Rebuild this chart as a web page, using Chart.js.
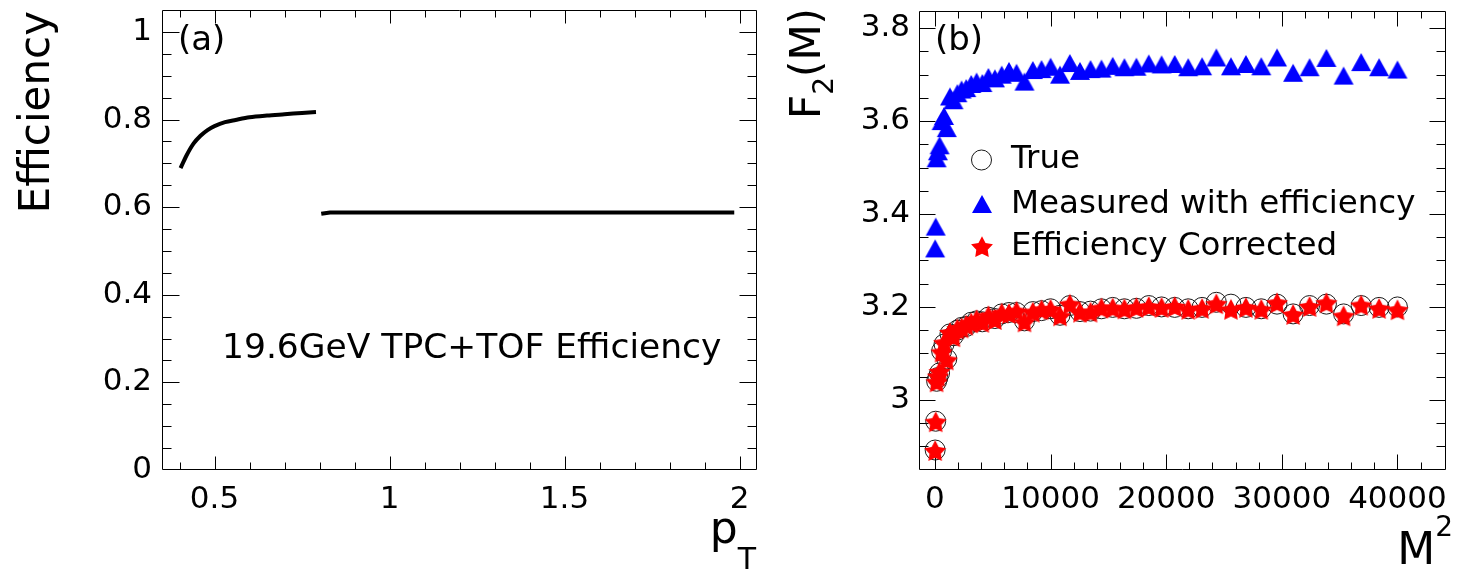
<!DOCTYPE html>
<html>
<head>
<meta charset="utf-8">
<script src="https://cdn.jsdelivr.net/npm/chart.js@4"></script>
<style>
  html, body { margin: 0; padding: 0; background: #fff; }
  #wrap { position: relative; width: 1458px; height: 571px; overflow: hidden; }
  canvas { position: absolute; top: 0; }
  #effCanvas { left: 0; }
  #f2Canvas { left: 770px; }
</style>
</head>
<body>
<div id="wrap">
  <canvas id="effCanvas" width="770" height="571"></canvas>
  <canvas id="f2Canvas" width="688" height="571"></canvas>
</div>
<script>
// ---- Panel (a): 19.6 GeV TPC+TOF efficiency vs pT ----
const ptTpc  = [0.403, 0.42, 0.44, 0.46, 0.48, 0.50, 0.53, 0.56, 0.60, 0.65, 0.70, 0.75, 0.79];
const effTpc = [0.689, 0.718, 0.745, 0.763, 0.776, 0.785, 0.794, 0.799, 0.805, 0.809, 0.812, 0.815, 0.817];
const ptTof  = [0.805, 0.83, 1.0, 1.25, 1.5, 1.75, 1.985];
const effTof = [0.585, 0.588, 0.588, 0.588, 0.588, 0.588, 0.588];

const effTicksX = [0.5, 1, 1.5, 2];
const effTickLabelsX = ['0.5', '1', '1.5', '2'];
const effTicksY = [0, 0.2, 0.4, 0.6, 0.8, 1];
const effTickLabelsY = ['0', '0.2', '0.4', '0.6', '0.8', '1'];

// ---- Panel (b): F2(M) vs M^2 ----
const m2 = [16, 64, 144, 256, 400, 576, 784, 1024, 1296, 1600,
            1936, 2304, 2704, 3136, 3600, 4096, 4624, 5184, 5776, 6400,
            7056, 7744, 8464, 9216, 10000, 10816, 11664, 12544, 13456, 14400,
            15376, 16384, 17424, 18496, 19600, 20736, 21904, 23104, 24336, 25600,
            26896, 28224, 29584, 30976, 32400, 33856, 35344, 36864, 38416, 40000];
const f2True = [2.892, 2.954, 3.040, 3.048, 3.058, 3.105, 3.120, 3.088, 3.142, 3.138,
                3.150, 3.156, 3.158, 3.167, 3.170, 3.168, 3.178, 3.175, 3.185, 3.188,
                3.188, 3.170, 3.190, 3.192, 3.196, 3.182, 3.203, 3.190, 3.191, 3.196,
                3.199, 3.196, 3.197, 3.203, 3.200, 3.199, 3.196, 3.199, 3.210, 3.206,
                3.199, 3.196, 3.206, 3.185, 3.203, 3.206, 3.185, 3.203, 3.199, 3.200];
const f2Measured = [3.326, 3.373, 3.520, 3.535, 3.548, 3.600, 3.611, 3.585, 3.653, 3.645,
                    3.660, 3.668, 3.671, 3.680, 3.685, 3.682, 3.695, 3.692, 3.700, 3.708,
                    3.704, 3.685, 3.710, 3.712, 3.717, 3.700, 3.725, 3.708, 3.712, 3.713,
                    3.719, 3.716, 3.717, 3.724, 3.722, 3.723, 3.716, 3.718, 3.737, 3.718,
                    3.723, 3.718, 3.737, 3.704, 3.716, 3.736, 3.698, 3.727, 3.716, 3.711];
const f2Corrected = [2.890, 2.952, 3.038, 3.050, 3.060, 3.102, 3.122, 3.085, 3.144, 3.135,
                     3.152, 3.154, 3.160, 3.165, 3.172, 3.166, 3.180, 3.172, 3.186, 3.185,
                     3.190, 3.167, 3.188, 3.193, 3.194, 3.180, 3.205, 3.188, 3.188, 3.197,
                     3.197, 3.195, 3.198, 3.200, 3.198, 3.200, 3.194, 3.196, 3.206, 3.194,
                     3.198, 3.194, 3.208, 3.183, 3.200, 3.208, 3.180, 3.203, 3.196, 3.193];

const f2TicksX = [0, 10000, 20000, 30000, 40000];
const f2TickLabelsX = ['0', '10000', '20000', '30000', '40000'];
const f2TicksY = [3, 3.2, 3.4, 3.6, 3.8];
const f2TickLabelsY = ['3', '3.2', '3.4', '3.6', '3.8'];

const FONT = "'DejaVu Sans', sans-serif";
Chart.defaults.font.family = FONT;
Chart.defaults.color = '#000';

function steps(from, to, step) {
  const out = [];
  for (let v = from; v <= to + step * 1e-6; v += step) out.push(Math.round(v / step) * step);
  return out;
}
function pairs(xs, ys) { return xs.map((x, i) => ({ x, y: ys[i] })); }

// Marker images: filled star and a box-centred up triangle
function starMarker(color) {
  const c = document.createElement('canvas');
  c.width = 24; c.height = 24;
  const g = c.getContext('2d');
  const R = 11.5, r = 6.0, cx = 12, cy = 12.8;
  g.beginPath();
  for (let k = 0; k < 10; k++) {
    const ang = -Math.PI / 2 + k * Math.PI / 5;
    const rad = k % 2 ? r : R;
    const px = cx + rad * Math.cos(ang), py = cy + rad * Math.sin(ang);
    if (k) g.lineTo(px, py); else g.moveTo(px, py);
  }
  g.closePath();
  g.fillStyle = color;
  g.fill();
  return c;
}
function triangleMarker(color) {
  const c = document.createElement('canvas');
  c.width = 22; c.height = 20;
  const g = c.getContext('2d');
  g.beginPath();
  g.moveTo(11, 1); g.lineTo(21, 19); g.lineTo(1, 19); g.closePath();
  g.fillStyle = color;
  g.fill();
  return c;
}
const starImg = starMarker('#ff0000');
const triImg = triangleMarker('#0000ff');

// Frame with inward ticks on all four sides
const axisFrame = {
  id: 'axisFrame',
  beforeDatasetsDraw(chart, args, o) {
    const { ctx, chartArea: a } = chart;
    const sx = chart.scales.x, sy = chart.scales.y;
    const L = Math.round(a.left) + 0.5, R = Math.round(a.right) - 0.5;
    const T = Math.round(a.top) + 0.5, B = Math.round(a.bottom) - 0.5;
    ctx.save();
    ctx.strokeStyle = '#000';
    ctx.lineWidth = 1;
    ctx.beginPath();
    ctx.rect(L, T, R - L, B - T);
    const tx = (vals, len) => vals.forEach(v => {
      const p = Math.round(sx.getPixelForValue(v)) + 0.5;
      if (p <= L + 1 || p >= R - 1) return;
      ctx.moveTo(p, B); ctx.lineTo(p, B - len);
      ctx.moveTo(p, T); ctx.lineTo(p, T + len);
    });
    const ty = (vals, len) => vals.forEach(v => {
      const p = Math.round(sy.getPixelForValue(v)) + 0.5;
      if (p <= T + 1 || p >= B - 1) return;
      ctx.moveTo(L, p); ctx.lineTo(L + len, p);
      ctx.moveTo(R, p); ctx.lineTo(R - len, p);
    });
    tx(o.xMinor, o.xLen[1]); tx(o.xMajor, o.xLen[0]);
    ty(o.yMinor, o.yLen[1]); ty(o.yMajor, o.yLen[0]);
    ctx.stroke();
    ctx.restore();
  }
};

// Free text: titles, panel tags, annotation (runs of differently sized pieces)
const textRuns = {
  id: 'textRuns',
  afterDraw(chart, args, o) {
    const ctx = chart.ctx;
    (o.items || []).forEach(it => {
      ctx.save();
      ctx.translate(it.x, it.y);
      if (it.rotate) ctx.rotate(it.rotate * Math.PI / 180);
      ctx.fillStyle = '#000';
      ctx.textBaseline = 'alphabetic';
      ctx.textAlign = 'left';
      let total = 0;
      const widths = it.pieces.map(p => {
        ctx.font = p.size + 'px ' + FONT;
        const w = ctx.measureText(p.t).width;
        total += w;
        return w;
      });
      let cx = it.align === 'right' ? -total : 0;
      it.pieces.forEach((p, i) => {
        ctx.font = p.size + 'px ' + FONT;
        ctx.fillText(p.t, cx, p.dy || 0);
        cx += widths[i];
      });
      ctx.restore();
    });
  }
};

// Legend box inside the plot: marker + label per dataset
const markerLegend = {
  id: 'markerLegend',
  afterDraw(chart, args, o) {
    if (!o.rows) return;
    const ctx = chart.ctx;
    ctx.save();
    chart.data.datasets.forEach((ds, i) => {
      const mx = o.markerX, my = o.markerY[i];
      const st = ds.pointStyle;
      if (st instanceof HTMLCanvasElement) {
        ctx.drawImage(st, Math.round(mx - st.width / 2), Math.round(my - st.height / 2));
      } else {
        ctx.beginPath();
        ctx.arc(mx, my, ds.pointRadius, 0, Math.PI * 2);
        ctx.lineWidth = ds.pointBorderWidth;
        ctx.strokeStyle = ds.pointBorderColor;
        ctx.stroke();
      }
      ctx.fillStyle = '#000';
      ctx.font = o.size + 'px ' + FONT;
      ctx.textBaseline = 'alphabetic';
      ctx.textAlign = 'left';
      ctx.fillText(ds.label, o.textX, o.rows[i]);
    });
    ctx.restore();
  }
};

function fixedTicks(values) {
  return s => { s.ticks = values.map(v => ({ value: v })); };
}
function labelFrom(values, labels) {
  return v => { const i = values.findIndex(t => Math.abs(t - v) < 1e-9); return i < 0 ? '' : labels[i]; };
}

// ---- Chart (a) ----
new Chart(document.getElementById('effCanvas'), {
  type: 'scatter',
  data: {
    datasets: [
      { label: 'TPC', data: pairs(ptTpc, effTpc), showLine: true, borderColor: '#000',
        borderWidth: 4, pointRadius: 0, tension: 0.3, borderCapStyle: 'butt' },
      { label: 'TOF', data: pairs(ptTof, effTof), showLine: true, borderColor: '#000',
        borderWidth: 4, pointRadius: 0, tension: 0, borderCapStyle: 'butt' }
    ]
  },
  options: {
    responsive: false,
    animation: false,
    events: [],
    layout: { padding: { left: 0, top: 10, right: 13, bottom: 0 } },
    plugins: {
      legend: { display: false },
      tooltip: { enabled: false },
      axisFrame: {
        xMajor: effTicksX, xMinor: steps(0.4, 2.0, 0.1), xLen: [13, 7],
        yMajor: effTicksY, yMinor: steps(0, 1.05, 0.05), yLen: [17, 9]
      },
      textRuns: {
        items: [
          { x: 49, y: 11, rotate: -90, align: 'right', pieces: [{ t: 'Efficiency', size: 42 }] },
          { x: 756, y: 543, align: 'right', pieces: [{ t: 'p', size: 44 }, { t: 'T', size: 30, dy: 26 }] },
          { x: 178, y: 50, pieces: [{ t: '(a)', size: 34 }] },
          { x: 222, y: 358, pieces: [{ t: '19.6GeV TPC+TOF Efficiency', size: 34.5 }] }
        ]
      }
    },
    scales: {
      x: {
        type: 'linear', min: 0.35, max: 2.05,
        grid: { display: false, drawTicks: false }, border: { display: false },
        ticks: { font: { size: 31 }, padding: 11, maxRotation: 0, autoSkip: false,
                 callback: labelFrom(effTicksX, effTickLabelsX) },
        afterBuildTicks: fixedTicks(effTicksX),
        afterFit: s => { s.height = 101; s.paddingLeft = 0; s.paddingRight = 0; }
      },
      y: {
        type: 'linear', min: 0, max: 1.05,
        grid: { display: false, drawTicks: false }, border: { display: false },
        ticks: { font: { size: 31 }, padding: 10, autoSkip: false,
                 callback: labelFrom(effTicksY, effTickLabelsY) },
        afterBuildTicks: fixedTicks(effTicksY),
        afterFit: s => { s.width = 162; s.paddingTop = 0; s.paddingBottom = 0; }
      }
    }
  },
  plugins: [axisFrame, textRuns]
});

// ---- Chart (b) ----
new Chart(document.getElementById('f2Canvas'), {
  type: 'scatter',
  data: {
    datasets: [
      { label: 'True', data: pairs(m2, f2True), order: 3,
        pointStyle: 'circle', pointRadius: 10, pointBorderWidth: 1,
        pointBorderColor: '#1a1a1a', pointBackgroundColor: 'rgba(0,0,0,0)' },
      { label: 'Measured with efficiency', data: pairs(m2, f2Measured), order: 2,
        pointStyle: triImg, pointRadius: 10 },
      { label: 'Efficiency Corrected', data: pairs(m2, f2Corrected), order: 1,
        pointStyle: starImg, pointRadius: 10 }
    ]
  },
  options: {
    responsive: false,
    animation: false,
    events: [],
    layout: { padding: { left: 0, top: 10, right: 12, bottom: 0 } },
    plugins: {
      legend: { display: false },
      tooltip: { enabled: false },
      axisFrame: {
        xMajor: f2TicksX, xMinor: steps(0, 44000, 2000), xLen: [15, 7],
        yMajor: f2TicksY, yMinor: steps(2.85, 3.8, 0.05), yLen: [16, 9]
      },
      markerLegend: { markerX: 211.5, markerY: [160, 204, 247], textX: 241, rows: [168, 212.5, 255], size: 32.5 },
      textRuns: {
        items: [
          { x: 50, y: 8, rotate: -90, align: 'right',
            pieces: [{ t: 'F', size: 42 }, { t: '2', size: 28, dy: 13 }, { t: '(M)', size: 42 }] },
          { x: 683, y: 564, align: 'right', pieces: [{ t: 'M', size: 44 }, { t: '2', size: 28, dy: -28 }] },
          { x: 165, y: 50, pieces: [{ t: '(b)', size: 34 }] }
        ]
      }
    },
    scales: {
      x: {
        type: 'linear', min: -1380, max: 44200,
        grid: { display: false, drawTicks: false }, border: { display: false },
        ticks: { font: { size: 31 }, padding: 11, maxRotation: 0, autoSkip: false,
                 callback: labelFrom(f2TicksX, f2TickLabelsX) },
        afterBuildTicks: fixedTicks(f2TicksX),
        afterFit: s => { s.height = 101; s.paddingLeft = 0; s.paddingRight = 0; }
      },
      y: {
        type: 'linear', min: 2.849, max: 3.837,
        grid: { display: false, drawTicks: false }, border: { display: false },
        ticks: { font: { size: 31 }, padding: 9, autoSkip: false,
                 callback: labelFrom(f2TicksY, f2TickLabelsY) },
        afterBuildTicks: fixedTicks(f2TicksY),
        afterFit: s => { s.width = 149; s.paddingTop = 0; s.paddingBottom = 0; }
      }
    }
  },
  plugins: [axisFrame, markerLegend, textRuns]
});
</script>
</body>
</html>
